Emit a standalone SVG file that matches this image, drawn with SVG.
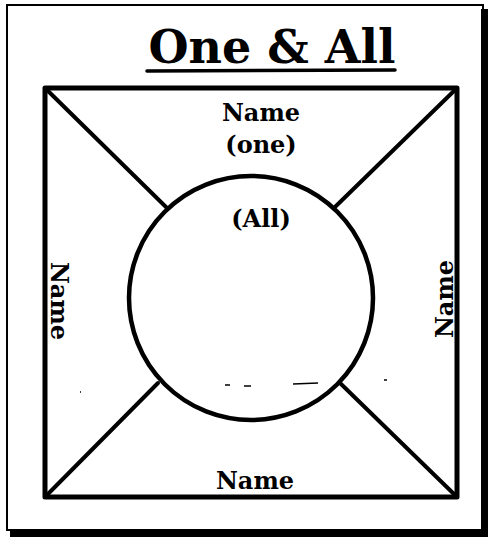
<svg xmlns="http://www.w3.org/2000/svg" width="488" height="538" viewBox="0 0 488 538">
<style>
.t{font-family:"DejaVu Serif","Liberation Serif",serif;font-weight:bold;fill:#000}
.lab{font-size:24px}
.ln{stroke:#000;fill:none;stroke-linecap:round}
</style>
<rect width="488" height="538" fill="#fff"/>
<g id="frame">
<rect x="7" y="5" width="476" height="525" fill="none" stroke="#000" stroke-width="2"/>
<rect x="481" y="9" width="7" height="528" fill="#000"/>
<rect x="10" y="529" width="478" height="8" fill="#000"/>
</g>
<g id="title">
<text class="t" x="272" y="63" font-size="46" text-anchor="middle">One &amp; All</text>
<line class="ln" x1="147" y1="71" x2="395" y2="70" stroke-width="3.5"/>
</g>
<g id="connectors">
<line class="ln" x1="45" y1="88" x2="167" y2="208" stroke-width="4"/>
<line class="ln" x1="457" y1="88" x2="335" y2="207" stroke-width="4"/>
<line class="ln" x1="45" y1="497" x2="158" y2="383" stroke-width="4"/>
<line class="ln" x1="457" y1="497" x2="340" y2="383" stroke-width="4"/>
</g>
<g id="square">
<rect x="45" y="88" width="412" height="409" fill="none" stroke="#000" stroke-width="5" stroke-linejoin="round"/>
</g>
<g id="circle">
<circle cx="251" cy="298" r="122" fill="none" stroke="#000" stroke-width="4.5"/>
<text class="t lab" x="261" y="227" text-anchor="middle">(All)</text>
</g>
<g id="name-top">
<text class="t lab" x="261" y="121" text-anchor="middle">Name</text>
<text class="t lab" x="261" y="153" text-anchor="middle">(one)</text>
</g>
<g id="name-bottom">
<text class="t lab" x="255" y="489" text-anchor="middle">Name</text>
</g>
<g id="name-left">
<text class="t lab" transform="translate(51,301) rotate(90)" text-anchor="middle">Name</text>
</g>
<g id="name-right">
<text class="t lab" transform="translate(453,299) rotate(-90)" text-anchor="middle">Name</text>
</g>
<g id="specks" stroke="#000" stroke-width="1.5">
<line x1="225" y1="385" x2="230" y2="385"/>
<line x1="244" y1="386" x2="251" y2="386"/>
<line x1="293" y1="384" x2="318" y2="383"/>
<line x1="384" y1="380" x2="387" y2="380"/>
<line x1="80" y1="392" x2="81" y2="392"/>
</g>
</svg>
